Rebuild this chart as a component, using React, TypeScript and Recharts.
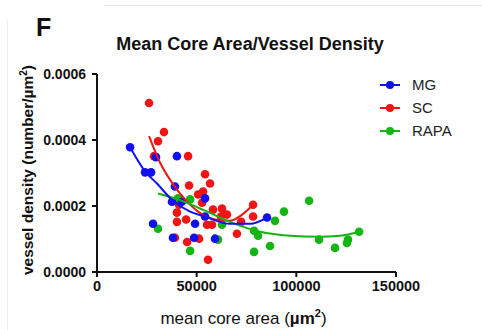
import React from 'react';
import { ScatterChart, Scatter, XAxis, YAxis } from 'recharts';

// point readings (x: mean core area in µm², y: vessel density)
const mgPoints = [
  { x: 16600, y: 0.000378 }, { x: 24100, y: 0.000302 }, { x: 27100, y: 0.000302 },
  { x: 29600, y: 0.000348 }, { x: 40100, y: 0.000351 }, { x: 39100, y: 0.000259 },
  { x: 37600, y: 0.000213 }, { x: 42600, y: 0.000213 }, { x: 54200, y: 0.000223 },
  { x: 54200, y: 0.000168 }, { x: 28100, y: 0.000146 }, { x: 49200, y: 0.000146 },
  { x: 38100, y: 0.000104 }, { x: 48700, y: 0.000104 }, { x: 59200, y: 0.000101 },
  { x: 85300, y: 0.000165 },
];

const scPoints = [
  { x: 26100, y: 0.000512 }, { x: 33600, y: 0.000424 }, { x: 30600, y: 0.000396 },
  { x: 28600, y: 0.000351 }, { x: 45700, y: 0.000351 }, { x: 54200, y: 0.000296 },
  { x: 46200, y: 0.000262 }, { x: 56700, y: 0.000268 }, { x: 53200, y: 0.000244 },
  { x: 50700, y: 0.000235 }, { x: 52700, y: 0.00021 }, { x: 41100, y: 0.000204 },
  { x: 40100, y: 0.00018 }, { x: 40100, y: 0.000152 }, { x: 44700, y: 0.000159 },
  { x: 58200, y: 0.000189 }, { x: 62700, y: 0.000192 }, { x: 65200, y: 0.000174 },
  { x: 62200, y: 0.000168 }, { x: 57700, y: 0.000143 }, { x: 55200, y: 0.000143 },
  { x: 78300, y: 0.000204 }, { x: 78300, y: 0.000168 }, { x: 72300, y: 0.000152 },
  { x: 70200, y: 0.000116 }, { x: 45200, y: 0.000091 }, { x: 51200, y: 0.000101 },
  { x: 39100, y: 0.000104 }, { x: 55700, y: 0.000037 },
];

const rapaPoints = [
  { x: 30600, y: 0.000131 }, { x: 40600, y: 0.000223 }, { x: 46700, y: 0.00022 },
  { x: 46700, y: 0.000064 }, { x: 60700, y: 0.000098 }, { x: 62700, y: 0.000143 },
  { x: 78800, y: 0.000125 }, { x: 80800, y: 0.00011 }, { x: 78800, y: 0.000061 },
  { x: 86800, y: 0.000079 }, { x: 89300, y: 0.000155 }, { x: 93800, y: 0.000183 },
  { x: 106400, y: 0.000216 }, { x: 111400, y: 0.000098 }, { x: 119400, y: 0.000073 },
  { x: 125400, y: 0.000088 }, { x: 125900, y: 0.000098 }, { x: 131500, y: 0.000122 },
];

// fitted curves
const mgFit = [
  { x: 16600, y: 0.000378 }, { x: 24100, y: 0.000305 }, { x: 30100, y: 0.000268 },
  { x: 38100, y: 0.000216 }, { x: 46700, y: 0.000183 }, { x: 54200, y: 0.000168 },
  { x: 66700, y: 0.000146 }, { x: 76800, y: 0.000146 }, { x: 85300, y: 0.000165 },
];
const scFit = [
  { x: 26100, y: 0.000412 }, { x: 31600, y: 0.000332 }, { x: 37600, y: 0.000271 },
  { x: 44200, y: 0.00022 }, { x: 50700, y: 0.000183 }, { x: 59200, y: 0.000159 },
  { x: 66700, y: 0.000155 }, { x: 72800, y: 0.000174 }, { x: 78300, y: 0.000204 },
];
const rapaFit = [
  { x: 30600, y: 0.000238 }, { x: 40600, y: 0.00022 }, { x: 54200, y: 0.000186 },
  { x: 66700, y: 0.000152 }, { x: 81800, y: 0.000122 }, { x: 96800, y: 0.00011 },
  { x: 111400, y: 0.000107 }, { x: 121900, y: 0.00011 }, { x: 131500, y: 0.000122 },
];

const xTicks = [0, 50000, 100000, 150000];
const yTicks = [0, 0.0002, 0.0004, 0.0006];
const seriesNames = ['MG', 'SC', 'RAPA'];

const BLUE = '#1010f0';
const RED = '#f01414';
const GREEN = '#14b414';
const colors = [BLUE, RED, GREEN];
const FONT = '"Liberation Sans", Arial, sans-serif';

const noShape = () => <g />;

const XTitle = (props: any) => {
  const { viewBox } = props;
  const cx = viewBox.x + viewBox.width / 2;
  return (
    <text x={cx - 3} y={324} textAnchor="middle" fontFamily={FONT} fontSize={17} fill="#111">
      mean core area (
      <tspan fontWeight="bold">µm</tspan>
      <tspan fontWeight="bold" fontSize={11} dy={-7}>2</tspan>
      <tspan dy={7}>)</tspan>
    </text>
  );
};

const YTitle = () => (
  <text
    x={0}
    y={0}
    transform="translate(33,170) rotate(-90)"
    textAnchor="middle"
    fontFamily={FONT}
    fontSize={15.5}
    fontWeight="bold"
    fill="#111"
  >
    vessel density (number/µm
    <tspan fontSize={10} dy={-6}>2</tspan>
    <tspan dy={6}>)</tspan>
  </text>
);

export default function App() {
  return (
    <div style={{ position: 'absolute', left: 0, top: 0, width: 482, height: 330, background: '#fff', fontFamily: FONT }}>
      <div style={{ position: 'absolute', left: 105, top: 5, right: 0, borderTop: '1px solid #e6e6e6' }} />
      <div style={{ position: 'absolute', left: 7, top: 20, bottom: 0, borderLeft: '1px solid #ececec' }} />
      <div style={{ position: 'absolute', left: 36, top: 13, fontSize: 25, fontWeight: 'bold', color: '#111' }}>F</div>
      <div style={{ position: 'absolute', left: 0, width: 500, top: 34, textAlign: 'center', fontSize: 18, fontWeight: 'bold', color: '#111' }}>
        Mean Core Area/Vessel Density
      </div>
      <ScatterChart width={482} height={330} margin={{ top: 74, right: 86, bottom: 18, left: 0 }}>
        <XAxis
          type="number"
          dataKey="x"
          domain={[0, 150000]}
          ticks={xTicks}
          interval={0}
          allowDataOverflow
          stroke="#111"
          strokeWidth={2}
          tickSize={5}
          tickMargin={4}
          height={40}
          tick={{ fill: '#111', fontSize: 14.5, fontWeight: 'bold', fontFamily: FONT }}
          label={<XTitle />}
        />
        <YAxis
          type="number"
          dataKey="y"
          domain={[0, 0.0006]}
          ticks={yTicks}
          interval={0}
          allowDataOverflow
          width={97}
          stroke="#111"
          strokeWidth={2}
          tickSize={5}
          tickMargin={6}
          tickFormatter={(v: number) => v.toFixed(4)}
          tick={{ fill: '#111', fontSize: 14, fontWeight: 'bold', fontFamily: FONT }}
          label={<YTitle />}
        />
        <Scatter name="SC" data={scPoints} fill={RED} isAnimationActive={false} shape={(p: any) => <circle cx={p.cx} cy={p.cy} r={4.3} fill={RED} />} />
        <Scatter name="RAPA" data={rapaPoints} fill={GREEN} isAnimationActive={false} shape={(p: any) => <circle cx={p.cx} cy={p.cy} r={4.3} fill={GREEN} />} />
        <Scatter name="MG" data={mgPoints} fill={BLUE} isAnimationActive={false} shape={(p: any) => <circle cx={p.cx} cy={p.cy} r={4.3} fill={BLUE} />} />
        <Scatter data={scFit} line={{ stroke: RED, strokeWidth: 2 }} lineJointType="monotoneX" shape={noShape} isAnimationActive={false} />
        <Scatter data={rapaFit} line={{ stroke: GREEN, strokeWidth: 2 }} lineJointType="monotoneX" shape={noShape} isAnimationActive={false} />
        <Scatter data={mgFit} line={{ stroke: BLUE, strokeWidth: 2 }} lineJointType="monotoneX" shape={noShape} isAnimationActive={false} />
      </ScatterChart>
      <div style={{ position: 'absolute', left: 380, top: 73 }}>
        {seriesNames.map((name, i) => (
          <div key={name} style={{ display: 'flex', alignItems: 'center', height: 23, fontSize: 15, color: '#222' }}>
            <svg width={20} height={10} style={{ marginRight: 12 }}>
              <line x1={0} y1={5} x2={20} y2={5} stroke={colors[i]} strokeWidth={2} />
              <circle cx={10} cy={5} r={4} fill={colors[i]} />
            </svg>
            {name}
          </div>
        ))}
      </div>
    </div>
  );
}
